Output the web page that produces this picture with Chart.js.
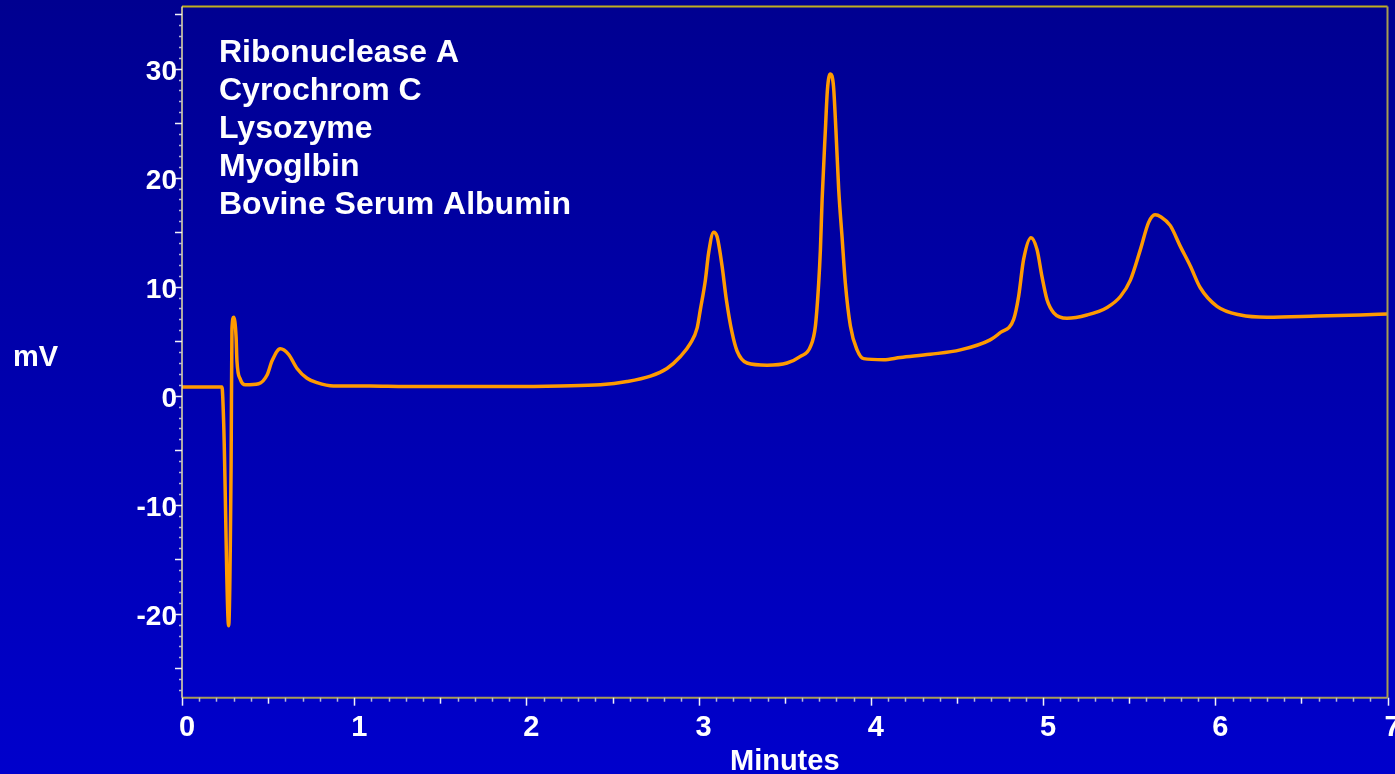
<!DOCTYPE html>
<html>
<head>
<meta charset="utf-8">
<script src="https://cdn.jsdelivr.net/npm/chart.js@4"></script>
<style>
  html, body { margin: 0; padding: 0; overflow: hidden; background: #0000a8; }
  canvas { display: block; }
</style>
</head>
<body>
<canvas id="c" width="1395" height="774"></canvas>
<script>
// ---- data ----
const times = [0, 0.232, 0.242, 0.271, 0.285, 0.290, 0.300, 0.314, 0.319, 0.339,
  0.368, 0.445, 0.494, 0.523, 0.571, 0.619, 0.668, 0.726, 0.784, 0.879,
  1.09, 1.3, 1.6, 1.9, 2.2, 2.429, 2.584, 2.72, 2.816, 2.894,
  2.952, 2.991, 3.01, 3.039, 3.058, 3.087, 3.107, 3.136, 3.161, 3.194,
  3.223, 3.281, 3.397, 3.513, 3.591, 3.649, 3.678, 3.697, 3.707, 3.717,
  3.736, 3.748, 3.765, 3.783, 3.797, 3.813, 3.833, 3.852, 3.881, 3.92,
  3.958, 4.074, 4.171, 4.345, 4.52, 4.69, 4.752, 4.829, 4.858, 4.887,
  4.93, 4.965, 4.994, 5.023, 5.062, 5.139, 5.255, 5.372, 5.449, 5.507,
  5.565, 5.613, 5.65, 5.685, 5.739, 5.797, 5.855, 5.913, 6.01, 6.146,
  6.301, 6.591, 6.843, 7.0];
const signal = [0.8, 0.8, -2.5, -21.1, -6.5, 6.1, 7.2, 5.4, 3.2, 1.5,
  1.0, 1.1, 1.9, 3.2, 4.3, 3.8, 2.5, 1.6, 1.2, 0.9,
  0.9, 0.85, 0.85, 0.85, 0.9, 1.0, 1.3, 1.8, 2.5, 3.6,
  4.8, 6.2, 7.9, 10.6, 13.1, 15.0, 14.6, 11.9, 8.8, 5.8,
  4.1, 3.0, 2.8, 3.0, 3.6, 4.5, 6.4, 10.3, 13.4, 18.0,
  24.4, 28.1, 29.5, 28.4, 24.4, 19.0, 14.5, 10.3, 6.4, 4.2,
  3.4, 3.3, 3.5, 3.8, 4.2, 5.1, 5.8, 7.0, 9.1, 12.5,
  14.5, 13.4, 10.9, 8.8, 7.6, 7.1, 7.4, 8.1, 9.1, 10.6,
  13.4, 15.9, 16.6, 16.4, 15.6, 13.7, 11.9, 9.9, 8.2, 7.4,
  7.2, 7.3, 7.4, 7.5];
const xTickLabels = [0, 1, 2, 3, 4, 5, 6, 7];
const yTickLabels = [-20, -10, 0, 10, 20, 30];
const annotations = ["Ribonuclease A", "Cyrochrom C", "Lysozyme", "Myoglbin", "Bovine Serum Albumin"];
const xTitle = "Minutes";
const yTitle = "mV";

const FONT = '"Liberation Sans", Arial, sans-serif';

const decor = {
  id: 'decor',
  beforeDraw(chart) {
    const ctx = chart.ctx;
    const g = ctx.createLinearGradient(0, 0, 0, chart.height);
    g.addColorStop(0, '#000090');
    g.addColorStop(1, '#0000CC');
    ctx.save();
    ctx.fillStyle = g;
    ctx.fillRect(0, 0, chart.width, chart.height);
    ctx.restore();
  },
  afterDraw(chart) {
    const ctx = chart.ctx;
    const a = chart.chartArea;
    const xs = chart.scales.x, ys = chart.scales.y;
    ctx.save();
    // frame
    ctx.lineWidth = 2;
    ctx.strokeStyle = '#C0AE20';
    ctx.beginPath(); ctx.moveTo(a.left, a.top); ctx.lineTo(a.right, a.top); ctx.stroke();
    ctx.strokeStyle = '#A89C50';
    ctx.beginPath(); ctx.moveTo(a.right, a.top); ctx.lineTo(a.right, a.bottom); ctx.stroke();
    ctx.strokeStyle = '#A89C58';
    ctx.beginPath(); ctx.moveTo(a.left, a.bottom); ctx.lineTo(a.right, a.bottom); ctx.stroke();
    ctx.lineWidth = 1.5;
    ctx.strokeStyle = '#E8E0A0';
    ctx.beginPath(); ctx.moveTo(a.left, a.top); ctx.lineTo(a.left, a.bottom); ctx.stroke();
    // y ticks (every 1 mV, longer every 5)
    ctx.lineWidth = 1.5;
    for (let v = Math.ceil(ys.min); v <= Math.floor(ys.max); v++) {
      const py = Math.round(ys.getPixelForValue(v)) + 0.5;
      const major = v % 5 === 0;
      ctx.strokeStyle = major ? '#F0F0F8' : '#B8B8D8';
      ctx.beginPath();
      ctx.moveTo(a.left - (major ? 7 : 3), py);
      ctx.lineTo(a.left, py);
      ctx.stroke();
    }
    // x ticks (every 0.1 min, medium at 0.5, long at 1)
    for (let i = 0; i <= 70; i++) {
      const px = Math.round(xs.getPixelForValue(i / 10)) + 0.5;
      const len = i % 10 === 0 ? 8 : (i % 5 === 0 ? 6 : 4);
      ctx.strokeStyle = i % 5 === 0 ? '#F0F0F8' : '#B8B8D8';
      ctx.beginPath();
      ctx.moveTo(px, a.bottom);
      ctx.lineTo(px, a.bottom + len);
      ctx.stroke();
    }
    // y-axis title (horizontal)
    ctx.fillStyle = '#FFFFFF';
    ctx.font = 'bold 29px ' + FONT;
    ctx.textAlign = 'center';
    ctx.textBaseline = 'alphabetic';
    ctx.fillText(yTitle, 35.5, 366);
    // annotation text
    ctx.font = 'bold 32px ' + FONT;
    ctx.textAlign = 'left';
    annotations.forEach((t, i) => ctx.fillText(t, 219, 62 + i * 38.1));
    ctx.restore();
  }
};

new Chart(document.getElementById('c'), {
  type: 'line',
  data: {
    datasets: [{
      data: times.map((t, i) => ({ x: t, y: signal[i] })),
      borderColor: '#FF9A00',
      borderWidth: 3.5,
      pointRadius: 0,
      cubicInterpolationMode: 'monotone',
      borderJoinStyle: 'round',
      borderCapStyle: 'round',
      fill: false
    }]
  },
  options: {
    responsive: false,
    animation: false,
    devicePixelRatio: 1,
    layout: { padding: { left: 0, right: 7.5, top: 6.5, bottom: 0 } },
    plugins: { legend: { display: false }, tooltip: { enabled: false } },
    scales: {
      x: {
        type: 'linear',
        min: 0, max: 7,
        grid: { display: false, drawTicks: false },
        border: { display: false },
        ticks: {
          stepSize: 1,
          padding: 13,
          labelOffset: 5,
          color: '#FFFFFF',
          font: { family: FONT, size: 29, weight: 'bold' },
          callback: v => xTickLabels.includes(v) ? String(v) : ''
        },
        title: {
          display: true,
          text: xTitle,
          color: '#FFFFFF',
          font: { family: FONT, size: 29, weight: 'bold' },
          padding: { top: 0, bottom: -5 }
        },
        afterFit(s) { s.height = 76.3; s.paddingLeft = 0; s.paddingRight = 0; }
      },
      y: {
        type: 'linear',
        min: -27.7, max: 35.7,
        grid: { display: false, drawTicks: false },
        border: { display: false },
        ticks: {
          stepSize: 10,
          includeBounds: false,
          padding: 5,
          labelOffset: 4,
          color: '#FFFFFF',
          font: { family: FONT, size: 28, weight: 'bold' },
          callback: v => yTickLabels.includes(v) ? String(v) : ''
        },
        afterFit(s) { s.width = 182; s.paddingTop = 0; s.paddingBottom = 0; }
      }
    }
  },
  plugins: [decor]
});
</script>
</body>
</html>
